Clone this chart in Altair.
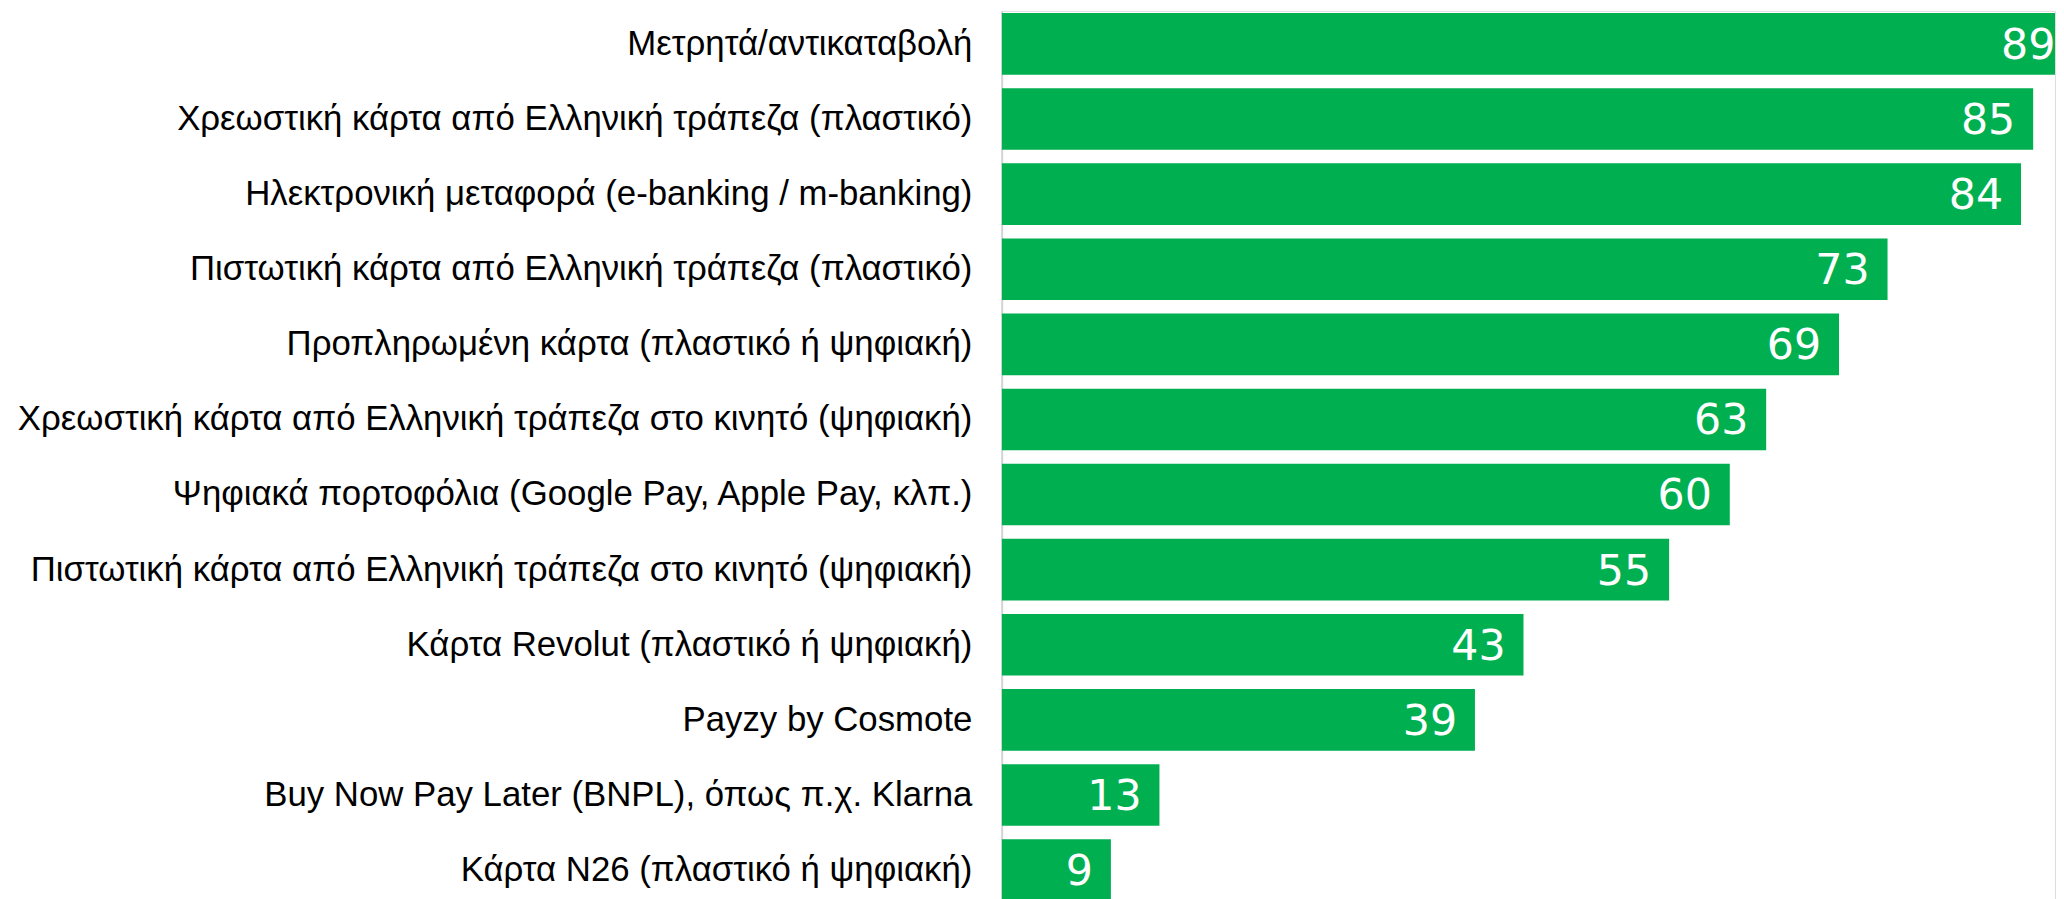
import altair as alt
import pandas as pd

categories = [
    "Μετρητά/αντικαταβολή",
    "Χρεωστική κάρτα από Ελληνική τράπεζα (πλαστικό)",
    "Ηλεκτρονική μεταφορά (e-banking / m-banking)",
    "Πιστωτική κάρτα από Ελληνική τράπεζα (πλαστικό)",
    "Προπληρωμένη κάρτα (πλαστικό ή ψηφιακή)",
    "Χρεωστική κάρτα από Ελληνική τράπεζα στο κινητό (ψηφιακή)",
    "Ψηφιακά πορτοφόλια (Google Pay, Apple Pay, κλπ.)",
    "Πιστωτική κάρτα από Ελληνική τράπεζα στο κινητό (ψηφιακή)",
    "Κάρτα Revolut (πλαστικό ή ψηφιακή)",
    "Payzy by Cosmote",
    "Buy Now Pay Later (BNPL), όπως π.χ. Klarna",
    "Κάρτα N26 (πλαστικό ή ψηφιακή)",
]
values = [89, 85, 84, 73, 69, 63, 60, 55, 43, 39, 13, 9]

X_MAX = 86.8

df = pd.DataFrame({"cat": categories, "val": values})

y_enc = alt.Y(
    "cat:N",
    sort=categories,
    title=None,
    scale=alt.Scale(paddingInner=0.18, paddingOuter=0.03),
    axis=alt.Axis(
        ticks=False,
        domain=True,
        domainColor="#d4d4d4",
        domainWidth=2,
        labelFont="Liberation Sans",
        labelFontSize=35,
        labelColor="#000000",
        labelPadding=30,
        labelLimit=2000,
        grid=False,
    ),
)
x_scale = alt.Scale(domain=[0, X_MAX], nice=False, zero=True)

bars = alt.Chart(df).mark_bar(color="#00B050", clip=True).encode(
    y=y_enc,
    x=alt.X("val:Q", scale=x_scale, axis=None),
)

labels = alt.Chart(df).transform_calculate(
    lx=f"min(datum.val, {X_MAX} + 1.5)"
).mark_text(
    align="right",
    baseline="middle",
    dx=-18,
    dy=2,
    color="white",
    font="DejaVu Sans",
    fontSize=43,
).encode(
    y=alt.Y("cat:N", sort=categories),
    x=alt.X("lx:Q", scale=x_scale),
    text=alt.Text("val:Q"),
)

chart = (
    (bars + labels)
    .properties(width=1060, height=898, padding={"left": 9, "top": 0, "right": 0, "bottom": 0})
    .configure_view(stroke=None)
    .configure(background="white")
)

chart.save("out.html", embed_options={"renderer": "svg", "actions": False})
